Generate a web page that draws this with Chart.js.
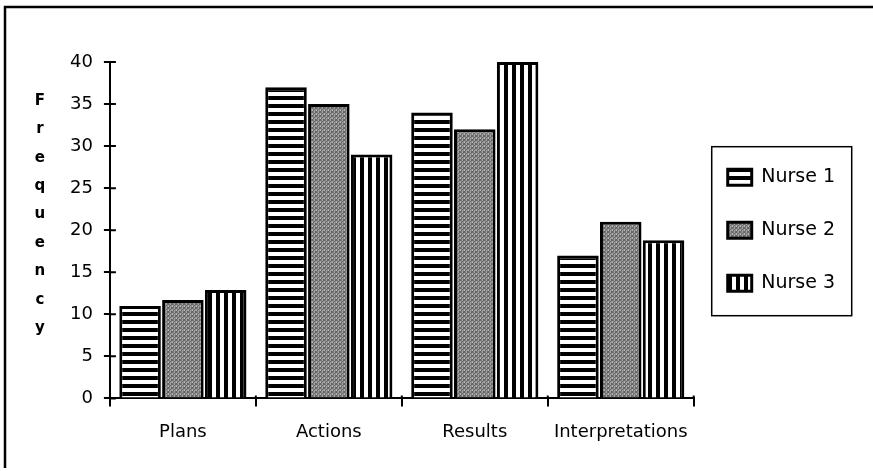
<!DOCTYPE html>
<html>
<head>
<meta charset="utf-8">
<script src="https://cdn.jsdelivr.net/npm/chart.js@4.4.0/dist/chart.umd.min.js"></script>
<style>
  html, body { margin: 0; padding: 0; background: #fff; }
  #wrap { width: 873px; height: 471px; }
</style>
</head>
<body>
<div id="wrap"><canvas id="nurseChart" width="873" height="471"></canvas></div>
<script>
// chart data
const categories = ['Plans', 'Actions', 'Results', 'Interpretations'];
const seriesNames = ['Nurse 1', 'Nurse 2', 'Nurse 3'];
const nurse1 = [11, 37, 34, 17];
const nurse2 = [11.7, 35, 32, 21];
const nurse3 = [12.9, 29, 40, 18.8];
const yMin = 0;
const yMax = 40;
const yStep = 5;
const yTitle = 'Frequency';

const FONT = '"DejaVu Sans", sans-serif';

// fill patterns for the bars
function makePattern(w, h, draw) {
    const c = document.createElement('canvas');
    c.width = w;
    c.height = h;
    const g = c.getContext('2d');
    draw(g);
    return g.createPattern(c, 'repeat');
}

const hStripes = makePattern(8, 8, g => {
    g.fillStyle = '#fff';
    g.fillRect(0, 0, 8, 8);
    g.fillStyle = '#000';
    g.fillRect(0, 0, 8, 4);
});

const grayDots = makePattern(4, 4, g => {
    const cols = ['#b4b4b4', '#7c7c7c', '#a2a2a2', '#8a8a8a'];
    for (let x = 0; x < 4; x++) {
        for (let y = 0; y < 4; y++) {
            g.fillStyle = (x + y) % 3 === 0 ? '#666' : cols[x];
            g.fillRect(x, y, 1, 1);
        }
    }
});

const vStripes = makePattern(8, 8, g => {
    g.fillStyle = '#fff';
    g.fillRect(0, 0, 8, 8);
    g.fillStyle = '#000';
    g.fillRect(0, 0, 4, 8);
});

// page frame (top and left edge of the scanned box)
const framePlugin = {
    id: 'frame',
    beforeDraw(chart) {
        const ctx = chart.ctx;
        ctx.save();
        ctx.fillStyle = '#fff';
        ctx.fillRect(0, 0, chart.width, chart.height);
        ctx.strokeStyle = '#000';
        ctx.lineWidth = 2.5;
        ctx.beginPath();
        ctx.moveTo(873, 7);
        ctx.lineTo(5, 7);
        ctx.lineTo(5, 468);
        ctx.stroke();
        ctx.restore();
    }
};

// stacked letters of the y title, inner tick marks and legend box
const extrasPlugin = {
    id: 'extras',
    afterDraw(chart) {
        const ctx = chart.ctx;
        const area = chart.chartArea;
        const y = chart.scales.y;
        const x = chart.scales.x;
        ctx.save();

        ctx.fillStyle = '#000';
        ctx.font = 'bold 15px ' + FONT;
        ctx.textAlign = 'center';
        ctx.textBaseline = 'middle';
        yTitle.split('').forEach((ch, i) => {
            ctx.fillText(ch, area.left - 70, area.top + 39 + i * 28.4);
        });

        ctx.strokeStyle = '#000';
        ctx.lineWidth = 2;
        ctx.beginPath();
        for (let v = yMin; v <= yMax; v += yStep) {
            const py = y.getPixelForValue(v);
            ctx.moveTo(area.left, py);
            ctx.lineTo(area.left + 6, py);
        }
        for (let i = 0; i <= categories.length; i++) {
            const px = x.getPixelForValue(i - 0.5);
            ctx.moveTo(px, area.bottom);
            ctx.lineTo(px, area.bottom - 3);
        }
        ctx.stroke();

        const hb = chart.legend.legendHitBoxes;
        if (hb && hb.length) {
            const first = hb[0];
            const last = hb[hb.length - 1];
            const bx = first.left - 16;
            const by = first.top - 21;
            ctx.lineWidth = 1.5;
            ctx.strokeRect(bx, by, 140, last.top + last.height + 23 - by);
        }
        ctx.restore();
    }
};

const ctxNurse = document.getElementById('nurseChart').getContext('2d');
const nurseChart = new Chart(ctxNurse, {
    type: 'bar',
    data: {
        labels: categories,
        datasets: [{
            label: seriesNames[0],
            data: nurse1,
            backgroundColor: hStripes,
            borderColor: '#000',
            borderWidth: 3
        }, {
            label: seriesNames[1],
            data: nurse2,
            backgroundColor: grayDots,
            borderColor: '#000',
            borderWidth: 3
        }, {
            label: seriesNames[2],
            data: nurse3,
            backgroundColor: vStripes,
            borderColor: '#000',
            borderWidth: 3
        }]
    },
    options: {
        responsive: false,
        animation: false,
        layout: {
            padding: { left: 59, top: 62, right: 28, bottom: 13 }
        },
        datasets: {
            bar: { categoryPercentage: 0.88, barPercentage: 0.97 }
        },
        scales: {
            x: {
                grid: {
                    offset: true,
                    drawOnChartArea: false,
                    tickLength: 8,
                    color: '#000',
                    lineWidth: 2
                },
                border: { color: '#000', width: 2 },
                ticks: {
                    color: '#000',
                    font: { family: FONT, size: 18 },
                    padding: 15
                }
            },
            y: {
                min: yMin,
                max: yMax,
                grid: {
                    drawOnChartArea: false,
                    tickLength: 6,
                    color: '#000',
                    lineWidth: 2
                },
                border: { color: '#000', width: 2 },
                ticks: {
                    stepSize: yStep,
                    color: '#000',
                    font: { family: FONT, size: 18 },
                    padding: 11
                }
            }
        },
        plugins: {
            tooltip: { enabled: false },
            legend: {
                position: 'right',
                fullSize: false,
                labels: {
                    boxWidth: 24,
                    boxHeight: 16,
                    padding: 34,
                    color: '#000',
                    font: { family: FONT, size: 19 }
                }
            }
        }
    },
    plugins: [framePlugin, extrasPlugin]
});
</script>
</body>
</html>
